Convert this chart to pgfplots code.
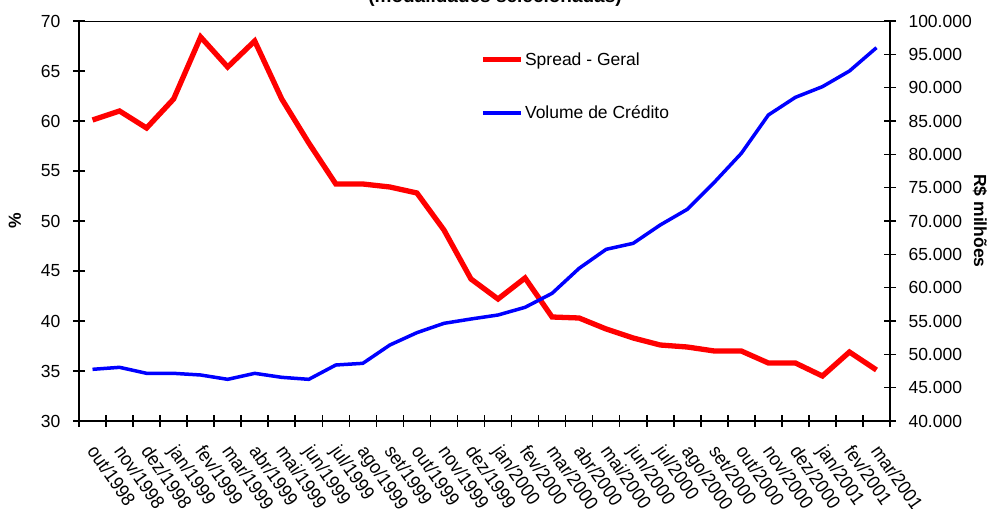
\documentclass[border=0pt]{standalone}
\usepackage{pgfplots}
\pgfplotsset{compat=1.18}
\usepackage{fontspec}
\setmainfont{Liberation Sans}
\definecolor{sred}{RGB}{255,0,0}
\definecolor{vblue}{RGB}{0,0,255}
\pgfplotstableread{
i spread volume
0 60.1 47750
1 61.0 48050
2 59.3 47150
3 62.2 47150
4 68.4 46900
5 65.4 46250
6 68.0 47150
7 62.2 46550
8 57.8 46250
9 53.7 48400
10 53.7 48650
11 53.4 51400
12 52.8 53250
13 49.1 54650
14 44.2 55300
15 42.2 55900
16 44.3 57050
17 40.4 59150
18 40.3 62900
19 39.2 65750
20 38.3 66650
21 37.6 69400
22 37.4 71750
23 37.0 75800
24 37.0 80150
25 35.8 85900
26 35.8 88550
27 34.5 90150
28 36.9 92500
29 35.1 96000
}\datatable
\newcommand{\tf}{\fontsize{17.5}{21}\selectfont}
\begin{document}
\begin{tikzpicture}
\pgfplotsset{
  common/.style={
    at={(79pt,88pt)}, anchor=south west, scale only axis,
    width=811pt, height=400pt,
    xmin=-0.5, xmax=29.5,
    tick align=center, major tick length=12pt,
    tick style={line width=1.6pt, black},
    tick label style={font=\tf},
    label style={font=\tf\bfseries},
    /pgf/number format/assume math mode=true,
  }
}
\begin{axis}[common,
  ymin=30, ymax=70, ytick={30,35,...,70},
  axis x line*=bottom, axis y line*=left,
  axis line style={line width=2.3pt, black, -},
  xtick={-0.5,0.5,...,29.5},
  xticklabels={out/1998,nov/1998,dez/1998,jan/1999,fev/1999,mar/1999,abr/1999,mai/1999,jun/1999,jul/1999,ago/1999,set/1999,out/1999,nov/1999,dez/1999,jan/2000,fev/2000,mar/2000,abr/2000,mai/2000,jun/2000,jul/2000,ago/2000,set/2000,out/2000,nov/2000,dez/2000,jan/2001,fev/2001,mar/2001,{}},
  xticklabel style={xshift=19pt, yshift=-16pt, rotate=-55, anchor=north west, inner sep=0pt, yscale=1.1},
  yticklabel style={xshift=-9pt},
  ylabel={\%},
  ylabel style={at={(rel axis cs:-0.079,0.5)}, anchor=center},
]
\addplot[sred, line width=5.3pt, line join=miter, miter limit=2] table[x=i, y=spread] {\datatable};
\end{axis}
\begin{axis}[common,
  ymin=40000, ymax=100000, ytick={40000,45000,...,100000},
  axis x line*=top, axis y line*=right,
  x axis line style={line width=1pt, black, -},
  y axis line style={line width=2.3pt, black, -},
  xtick=\empty,
  scaled y ticks=false,
  yticklabel style={/pgf/number format/.cd, fixed, 1000 sep={.}, /tikz/.cd, xshift=9pt},
  ylabel={R\$ milhões},
  ylabel style={at={(rel axis cs:1.111,0.5)}, anchor=center, rotate=180},
  legend image code/.code={\draw[#1] (0pt,0pt) -- (38pt,0pt);},
  legend style={at={(rel axis cs:0.4945,0.925)}, anchor=north west, draw=none, fill=none,
    font=\tf, inner sep=0pt, row sep=36pt, nodes={inner sep=1.5pt}},
  legend cell align=left,
]
\addlegendimage{sred, line width=5.3pt}
\addlegendentry{Spread - Geral}
\addplot[vblue, line width=3.5pt, line join=round] table[x=i, y=volume] {\datatable};
\addlegendentry{Volume de Crédito}
\end{axis}
\node[font=\fontsize{19}{22}\selectfont\bfseries, anchor=base] at (495pt,506pt) {(modalidades selecionadas)};
\pgfresetboundingbox
\path[use as bounding box] (0pt,0pt) rectangle (997pt,509pt);
\end{tikzpicture}
\end{document}
